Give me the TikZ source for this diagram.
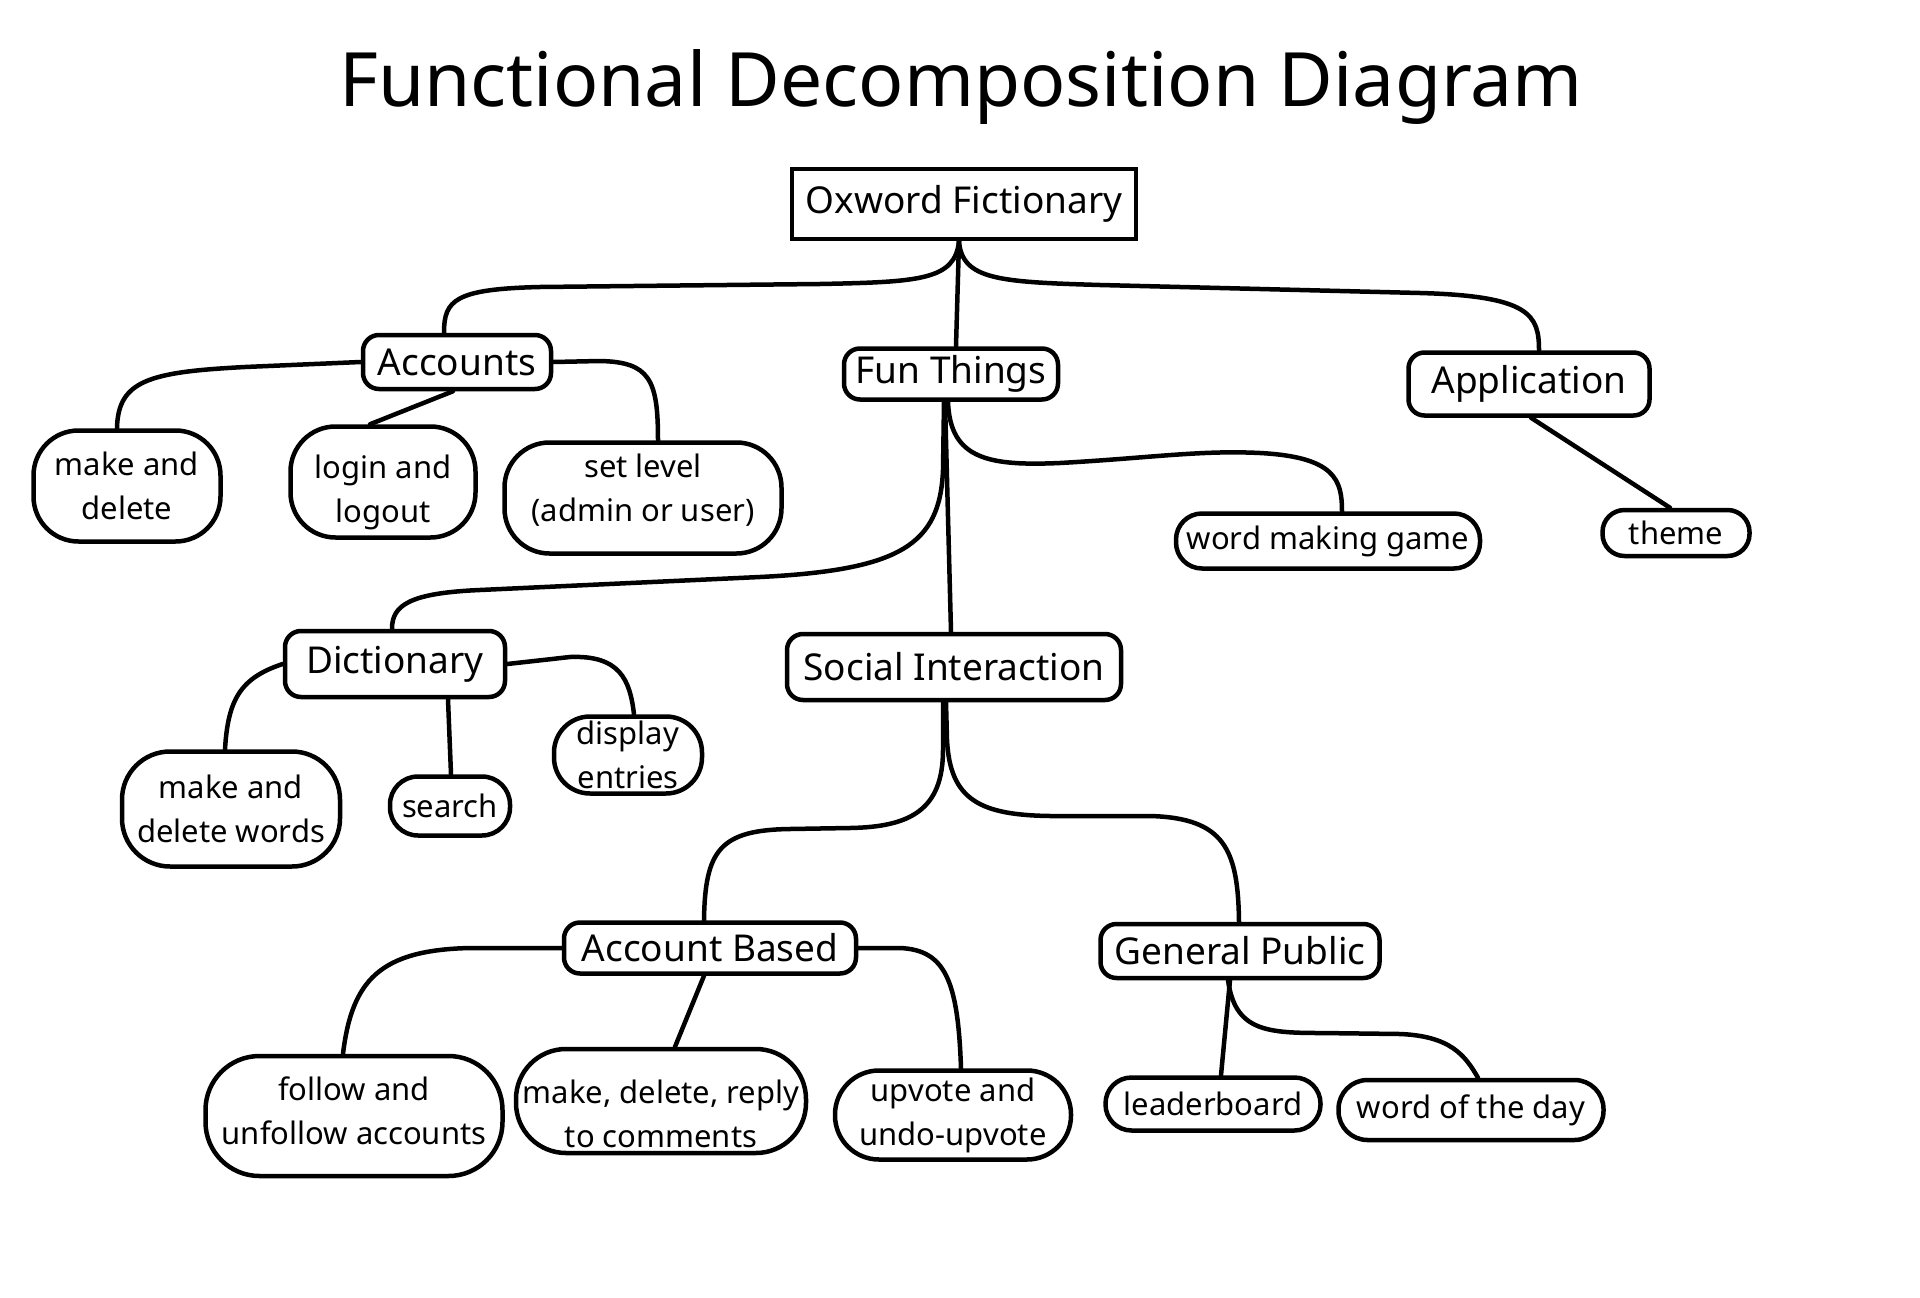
\documentclass[tikz,border=0pt]{standalone}
\usepackage{fontspec}
\setmainfont{Noto Sans}
\begin{document}
\begin{tikzpicture}[x=1pt,y=-1pt]
\tikzset{
  big/.style={draw, line width=4.5pt, inner sep=0pt, align=center, font=\fontsize{37}{44}\selectfont},
  mid/.style={big, rounded corners=16pt},
  leaf/.style={draw, line width=4.5pt, inner sep=0pt, align=center, font=\fontsize{31}{44}\selectfont, rounded corners=#1},
  leaf/.default=45pt,
  conn/.style={line width=4.5pt, line cap=round},
}
\useasboundingbox[fill=white] (0,0) rectangle (1920,1298);

\node[font=\fontsize{75}{80}\selectfont] (title) at (961,87) {Functional Decomposition Diagram};

\node[big, minimum width=344pt, minimum height=70pt] (ox) at (964,204) {Oxword Fictionary};
\node[mid, minimum width=188pt, minimum height=54pt] (acc) at (457,362) {Accounts};
\node[mid, minimum width=214pt, minimum height=51pt] (fun) at (951,374) {Fun Things};
\node[mid, minimum width=241pt, minimum height=63pt] (app) at (1529,384) {Application};

\node[leaf, minimum width=187pt, minimum height=111pt] (md1) at (127,486) {make and\\delete};
\node[leaf, minimum width=185pt, minimum height=111pt, text height=80pt, text depth=0pt] (login) at (383,482) {login and\\logout};
\node[leaf, minimum width=277pt, minimum height=111pt, text height=54pt, text depth=7pt] (setlvl) at (643,498) {set level\\(admin or user)};
\node[leaf=26pt, minimum width=304pt, minimum height=55pt] (wmg) at (1328,541) {word making game};
\node[leaf=22pt, minimum width=147pt, minimum height=46pt] (theme) at (1676,533) {theme};

\node[mid, minimum width=220pt, minimum height=66pt] (dict) at (395,664) {Dictionary};
\node[mid, minimum width=334pt, minimum height=66pt] (social) at (954,667) {Social Interaction};

\node[leaf=48pt, minimum width=218pt, minimum height=115pt] (md2) at (231,809) {make and\\delete words};
\node[leaf=28pt, minimum width=120pt, minimum height=59pt] (search) at (450,806) {search};
\node[leaf=36pt, minimum width=148pt, minimum height=77pt] (de) at (628,755) {display\\entries};

\node[mid, minimum width=292pt, minimum height=51pt] (ab) at (710,948) {Account Based};
\node[mid, minimum width=279pt, minimum height=54pt] (gp) at (1240,951) {General Public};

\node[leaf=54pt, minimum width=297pt, minimum height=120pt, text height=57.5pt, text depth=0pt] (fol) at (354,1116) {follow and\\unfollow accounts};
\node[leaf=50pt, minimum width=290pt, minimum height=104pt, text height=93.5pt, text depth=0pt] (mdr) at (661,1101) {make, delete, reply\\to comments};
\node[leaf=44pt, minimum width=236pt, minimum height=89pt] (up) at (953,1115) {upvote and\\undo-upvote};
\node[leaf=26pt, minimum width=215pt, minimum height=53pt] (lb) at (1213,1104) {leaderboard};
\node[leaf=29pt, minimum width=265pt, minimum height=60pt] (wod) at (1471,1110) {word of the day};

% Oxword children
\draw[conn] ([xshift=-5pt]ox.south) .. controls (955,280) and (920,282) .. (820,284) -- (540,287) .. controls (455,289) and (444,300) .. ([xshift=-13pt]acc.north);
\draw[conn] ([xshift=-5pt]ox.south) -- ([xshift=5pt]fun.north);
\draw[conn] ([xshift=-5pt]ox.south) .. controls (962,280) and (1000,282) .. (1100,285) -- (1420,293) .. controls (1530,296) and (1539,315) .. ([xshift=10pt]app.north);

% Accounts children
\draw[conn] (acc.west) -- (245,367) .. controls (150,372) and (118,380) .. ([xshift=-10pt]md1.north);
\draw[conn] ([xshift=-4pt]acc.south) -- ([xshift=-13pt]login.north);
\draw[conn] (acc.east) -- (600,361) .. controls (650,362) and (658,380) .. ([xshift=15pt]setlvl.north);

% Fun Things children
\draw[conn] ([xshift=-3pt]fun.south) .. controls (950,460) and (990,466) .. (1060,463) .. controls (1150,458) and (1200,450) .. (1260,453) .. controls (1335,457) and (1342,480) .. ([xshift=14pt]wmg.north);
\draw[conn] ([xshift=-7pt]fun.south) -- (943,470) .. controls (940,545) and (900,570) .. (760,577) -- (480,590) .. controls (410,593) and (392,605) .. ([xshift=-3pt]dict.north);
\draw[conn] ([xshift=-6pt]fun.south) -- ([xshift=-3pt]social.north);

% Application child
\draw[conn] ([xshift=2pt]app.south) -- ([xshift=-6pt]theme.north);

% Dictionary children
\draw[conn] (dict.west) .. controls (240,678) and (228,700) .. ([xshift=-6pt]md2.north);
\draw[conn] ([xshift=53pt]dict.south) -- ([xshift=1pt]search.north);
\draw[conn] (dict.east) -- (570,657) .. controls (620,655) and (630,680) .. ([xshift=6pt]de.north);

% Social Interaction children
\draw[conn] ([xshift=-11pt]social.south) -- (943,750) .. controls (943,810) and (910,827) .. (850,828) -- (790,829) .. controls (720,830) and (705,850) .. ([xshift=-6pt]ab.north);
\draw[conn] ([xshift=-8pt]social.south) -- (947,740) .. controls (950,800) and (980,815) .. (1050,816) -- (1150,816) .. controls (1225,818) and (1238,850) .. ([xshift=-1pt]gp.north);

% Account Based children
\draw[conn] (ab.west) -- (470,948) .. controls (380,950) and (352,980) .. ([xshift=-11pt]fol.north);
\draw[conn] ([xshift=-6pt]ab.south) -- ([xshift=14pt]mdr.north);
\draw[conn] (ab.east) -- (900,948) .. controls (945,950) and (958,980) .. ([xshift=8pt]up.north);

% General Public children
\draw[conn] ([xshift=-10pt]gp.south) -- ([xshift=8pt]lb.north);
\draw[conn] ([xshift=-12pt]gp.south) .. controls (1235,1030) and (1265,1033) .. (1320,1033) -- (1400,1034) .. controls (1450,1036) and (1465,1055) .. ([xshift=7pt]wod.north);
\end{tikzpicture}
\end{document}
